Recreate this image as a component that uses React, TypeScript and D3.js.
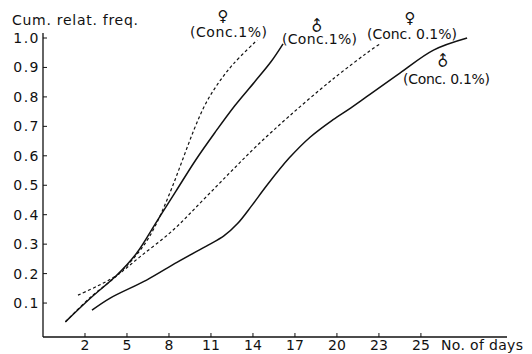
import * as d3 from 'd3'
import React, { useEffect, useRef } from 'react'

// cumulative relative frequency vs. number of days
// female, concentration 1% (dashed)
const femaleHighDays = [0.6, 2.4, 4.3, 5.7, 6.6, 7.4, 8.2, 9.0, 9.8, 10.6, 11.5, 12.6, 14.3]
const femaleHighFreq = [0.036, 0.12, 0.194, 0.265, 0.325, 0.4, 0.49, 0.59, 0.69, 0.775, 0.845, 0.912, 0.993]
// male, concentration 1% (solid)
const maleHighDays = [0.6, 2.4, 4.3, 5.7, 7.1, 8.5, 9.9, 11.3, 12.7, 14.1, 15.3, 16.15]
const maleHighFreq = [0.036, 0.117, 0.196, 0.27, 0.375, 0.48, 0.585, 0.68, 0.77, 0.85, 0.92, 0.98]
// female, concentration 0.1% (dashed)
const femaleLowDays = [1.5, 2.9, 4.3, 5.9, 8.3, 10.4, 12.4, 14.3, 16.6, 19.7, 22.6, 23.1]
const femaleLowFreq = [0.127, 0.158, 0.195, 0.256, 0.348, 0.448, 0.545, 0.635, 0.735, 0.86, 0.965, 0.98]
// male, concentration 0.1% (solid)
const maleLowDays = [2.5, 3.8, 6.4, 8.6, 10.8, 11.9, 12.9, 13.9, 15.0, 16.6, 18.1, 19.7, 21.0, 22.1, 24.5, 26.9, 29.3]
const maleLowFreq = [0.076, 0.117, 0.178, 0.239, 0.297, 0.327, 0.37, 0.43, 0.5, 0.593, 0.664, 0.722, 0.763, 0.8, 0.881, 0.959, 1.0]

const yTicks = [0.1, 0.2, 0.3, 0.4, 0.5, 0.6, 0.7, 0.8, 0.9, 1.0]
const yTickLabels = ['0.1', '0.2', '0.3', '0.4', '0.5', '0.6', '0.7', '0.8', '0.9', '1.0']
const xTicks = [2, 5, 8, 11, 14, 17, 20, 23, 26]
const xTickLabels = ['2', '5', '8', '11', '14', '17', '20', '23', '25']

const FONT = '"DejaVu Sans", sans-serif'

const toPoints = (days: number[], freq: number[]) => days.map((d, i) => [d, freq[i]] as [number, number])

const App = () => {
    const myRef = useRef<SVGSVGElement>(null)

    useEffect(() => {
        drawChart()
    }, [])

    function drawChart() {
        const svg = d3.select(myRef.current)
        svg.selectAll('*').remove()

        const x = d3.scaleLinear().domain([-1, 32.15]).range([43, 507])
        const y = d3.scaleLinear().domain([0, 1]).range([332.5, 38])
        const axisY = 337

        // axes lines
        svg.append('line')
            .attr('x1', 43).attr('x2', 43)
            .attr('y1', 33).attr('y2', axisY)
            .attr('stroke', '#111').attr('stroke-width', 1.3)
        svg.append('line')
            .attr('x1', 43).attr('x2', 507)
            .attr('y1', axisY).attr('y2', axisY)
            .attr('stroke', '#111').attr('stroke-width', 1.3)

        // y ticks + labels
        yTicks.forEach((t, i) => {
            svg.append('line')
                .attr('x1', 43).attr('x2', 47)
                .attr('y1', y(t)).attr('y2', y(t))
                .attr('stroke', '#111').attr('stroke-width', 1)
            svg.append('text')
                .attr('x', 40)
                .attr('y', y(t) + 5)
                .attr('text-anchor', 'end')
                .style('font-family', FONT)
                .style('font-size', '14px')
                .style('letter-spacing', '1.5px')
                .attr('fill', '#111')
                .text(yTickLabels[i])
        })

        // x ticks + labels
        xTicks.forEach((t, i) => {
            svg.append('line')
                .attr('x1', x(t)).attr('x2', x(t))
                .attr('y1', axisY).attr('y2', axisY - 4)
                .attr('stroke', '#111').attr('stroke-width', 1)
            svg.append('text')
                .attr('x', x(t))
                .attr('y', 350)
                .attr('text-anchor', 'middle')
                .style('font-family', FONT)
                .style('font-size', '14px')
                .attr('fill', '#111')
                .text(xTickLabels[i])
        })

        // axis titles
        svg.append('text')
            .attr('x', 12).attr('y', 25)
            .attr('textLength', 126)
            .style('font-family', FONT)
            .style('font-size', '14px')
            .attr('fill', '#111')
            .text('Cum. relat. freq.')
        svg.append('text')
            .attr('x', 441).attr('y', 350)
            .attr('textLength', 82)
            .style('font-family', FONT)
            .style('font-size', '14px')
            .attr('fill', '#111')
            .text('No. of days')

        // curves
        const line = d3.line<[number, number]>()
            .x(d => x(d[0]))
            .y(d => y(d[1]))
            .curve(d3.curveCatmullRom.alpha(0.5))

        const series = [
            { pts: toPoints(maleHighDays, maleHighFreq), dash: null },
            { pts: toPoints(maleLowDays, maleLowFreq), dash: null },
            { pts: toPoints(femaleHighDays, femaleHighFreq), dash: '3,2.5' },
            { pts: toPoints(femaleLowDays, femaleLowFreq), dash: '3,2.5' },
        ]
        series.forEach(s => {
            svg.append('path')
                .attr('d', line(s.pts))
                .attr('fill', 'none')
                .attr('stroke', '#111')
                .attr('stroke-width', s.dash ? 1.2 : 1.5)
                .attr('stroke-dasharray', s.dash)
        })

        // curve labels
        const labels = [
            { sym: '♀', sx: 223, sy: 16, rot: 0, text: '(Conc.1%)', tx: 190, ty: 37, w: 77 },
            { sym: '♂', sx: 317, sy: 26, rot: -45, text: '(Conc.1%)', tx: 282, ty: 44, w: 75 },
            { sym: '♀', sx: 410, sy: 18, rot: 0, text: '(Conc. 0.1%)', tx: 367, ty: 39, w: 90 },
            { sym: '♂', sx: 443, sy: 61, rot: -45, text: '(Conc. 0.1%)', tx: 403, ty: 84, w: 87 },
        ]
        labels.forEach(l => {
            svg.append('text')
                .attr('x', 0).attr('y', 0)
                .attr('transform', `translate(${l.sx},${l.sy}) rotate(${l.rot})`)
                .attr('text-anchor', 'middle')
                .attr('dominant-baseline', 'central')
                .style('font-family', FONT)
                .style('font-size', '15px')
                .attr('fill', '#111')
                .text(l.sym)
            svg.append('text')
                .attr('x', l.tx).attr('y', l.ty)
                .attr('textLength', l.w)
                .style('font-family', FONT)
                .style('font-size', '14px')
                .attr('fill', '#111')
                .text(l.text)
        })
    }

    return (
        <svg
            ref={myRef}
            width={532}
            height={354}
            style={{ position: 'absolute', left: 0, top: 0, background: '#fff' }}
        />
    )
}

export default App
